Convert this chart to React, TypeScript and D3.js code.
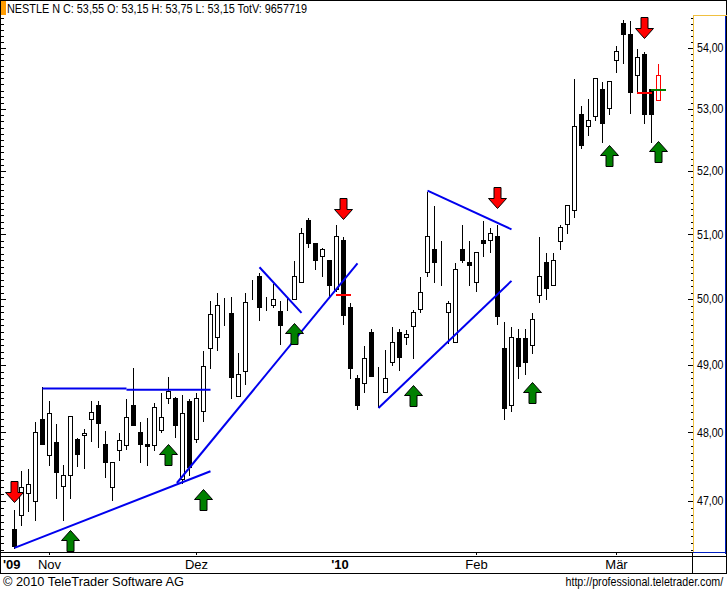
import React, { useEffect, useRef } from "react";
import * as d3 from "d3";

const opens = [
  46.6, 46.8, 47.12, 47.0, 48.2, 47.67, 47.86, 47.22, 47.38, 47.9,
  47.96, 48.2, 48.41, 47.83, 47.2, 47.74, 47.81, 48.41, 48.0, 47.83,
  47.81, 48.04, 48.51, 48.51, 47.32, 48.47, 47.9, 48.32, 49.26, 49.42,
  49.85, 49.79, 48.53, 48.91, 50.09, 50.36, 49.97, 49.91, 49.82, 49.98,
  50.0, 50.26, 51.22, 50.86, 50.66, 50.61, 50.16, 50.91, 49.88, 48.81,
  48.73, 49.5, 48.79, 48.59, 49.05, 49.5, 49.42, 49.59, 49.85, 50.41,
  50.77, 50.24, 49.8, 49.35, 50.77, 50.57, 50.27, 50.91, 50.91, 50.97,
  49.26, 48.41, 49.41, 49.41, 49.3, 50.06, 50.57, 50.22, 50.9, 51.17,
  51.38, 52.92, 52.73, 52.89, 53.32, 53.02, 53.8, 54.41, 54.24, 53.56,
  53.9, 53.32, 53.15,
];
const closes = [
  46.36, 47.2, 47.25, 48.01, 47.83, 48.29, 47.42, 47.38, 48.24, 47.68,
  47.99, 48.3, 48.13, 47.57, 47.57, 47.88, 48.23, 48.11, 47.83, 47.8,
  48.38, 48.23, 48.61, 48.11, 48.29, 47.49, 48.51, 48.99, 49.77, 49.91,
  49.85, 48.82, 48.87, 49.95, 50.09, 49.88, 49.97, 50.0, 49.61, 49.98,
  50.36, 51.02, 50.86, 50.61, 50.77, 50.21, 50.97, 49.76, 48.96, 48.41,
  49.11, 48.84, 48.79, 48.81, 49.35, 49.12, 49.47, 49.8, 50.11, 50.97,
  50.57, 50.24, 49.94, 50.46, 50.61, 50.52, 50.72, 50.86, 51.02, 49.74,
  48.36, 49.42, 48.99, 49.05, 49.7, 50.36, 50.17, 50.61, 51.11, 51.46,
  52.73, 52.42, 52.82, 53.51, 52.77, 53.46, 53.95, 54.24, 53.27, 53.85,
  52.92, 52.92, 53.55,
];
const highs = [
  46.89, 47.45, 47.48, 48.17, 48.69, 48.48, 48.14, 47.54, 48.26, 47.93,
  48.07, 48.48, 48.48, 48.04, 47.57, 48.0, 48.51, 48.97, 48.16, 48.22,
  48.45, 48.6, 48.84, 48.54, 48.57, 48.51, 48.59, 49.23, 49.98, 50.11,
  50.03, 50.05, 49.2, 50.11, 50.31, 50.41, 50.05, 50.25, 49.98, 50.05,
  50.61, 51.11, 51.27, 50.86, 50.81, 50.61, 51.16, 50.97, 49.95, 48.87,
  49.3, 49.56, 48.99, 49.24, 49.59, 49.56, 49.55, 49.85, 50.36, 51.68,
  51.46, 50.91, 49.98, 50.57, 51.16, 50.91, 50.72, 51.22, 51.11, 51.16,
  49.67, 49.59, 49.56, 49.56, 49.8, 50.97, 50.72, 50.72, 51.16, 51.46,
  53.51, 53.06, 53.18, 53.51, 53.46, 53.46, 54.05, 54.49, 54.46, 54.0,
  53.95, 53.32, 53.75,
];
const lows = [
  46.33, 46.65, 46.86, 46.73, 47.83, 47.52, 47.04, 46.73, 47.04, 47.51,
  47.48, 47.87, 47.78, 47.35, 47.01, 47.59, 47.75, 48.11, 47.57, 47.52,
  47.74, 48.01, 48.44, 47.93, 47.26, 47.38, 47.86, 48.17, 48.96, 49.23,
  49.61, 48.51, 48.53, 48.72, 50.0, 49.68, 49.83, 49.88, 49.32, 49.83,
  50.0, 50.26, 50.81, 50.46, 50.36, 50.04, 50.13, 49.62, 48.81, 48.35,
  48.6, 48.84, 48.38, 48.59, 49.0, 48.93, 49.32, 49.11, 49.8, 50.36,
  50.26, 50.22, 49.33, 49.35, 50.57, 50.21, 50.12, 50.66, 50.72, 49.62,
  48.19, 48.32, 48.81, 48.87, 49.18, 49.95, 50.0, 50.22, 50.77, 51.02,
  51.27, 52.37, 52.58, 52.82, 52.47, 52.92, 53.61, 53.76, 52.94, 53.27,
  52.77, 52.47, 53.15,
];

const monthLabels = ["'09", "Nov", "Dez", "'10", "Feb", "Mär"];
const monthIndex = [null, 5, 26, 46.5, 66, 86];
const priceTicks = [47, 48, 49, 50, 51, 52, 53, 54];

// [from index, from price, to index, to price]
const trendLines = [
  [0, 46.33, 28, 47.43],
  [4, 48.65, 16, 48.65],
  [16, 48.63, 28, 48.63],
  [23.2, 47.26, 49, 50.55],
  [35, 50.49, 41, 49.79],
  [52, 48.36, 71, 50.28],
  [59, 51.69, 71, 51.08],
];
// [index, tip price]
const buyArrows = [
  [8, 46.59],
  [22, 47.83],
  [27, 47.17],
  [40, 49.64],
  [57, 48.7],
  [74, 48.75],
  [85, 52.42],
  [92, 52.48],
];
const sellArrows = [
  [0, 46.99],
  [47, 51.25],
  [69, 51.41],
  [90, 54.16],
];
const redMarks = [
  [47, 50.08],
  [89.5, 53.28],
  [90.5, 53.27],
];
const greenMarks = [[92, 53.32]];

const headerText = "NESTLE N C: 53,55 O: 53,15 H: 53,75 L: 53,15 TotV: 9657719";
const font = "'Liberation Sans', Arial, sans-serif";

export default function App() {
  const svgRef = useRef<SVGSVGElement>(null);

  useEffect(() => {
    if (!svgRef.current) return;
    const svg = d3.select(svgRef.current);
    svg.selectAll("*").remove();

    const width = 727;
    const height = 591;
    const plotRight = 693;
    const plotBottom = 552.5;

    const x = d3.scaleLinear().domain([0, 92]).range([14.5, 658.5]);
    const y = d3.scaleLog().domain([47, 54]).range([501, 48]);
    const px = (v: number) => Math.floor(x(v)) + 0.5;
    const py = (v: number) => Math.round(y(v)) + 0.5;

    svg.append("rect").attr("width", width).attr("height", height).attr("fill", "white");

    // candles
    const candles = svg.append("g").attr("shape-rendering", "crispEdges");
    opens.forEach((o, i) => {
      const c = closes[i];
      const last = i === opens.length - 1;
      const col = last ? "#ff0000" : "black";
      candles
        .append("line")
        .attr("x1", px(i))
        .attr("x2", px(i))
        .attr("y1", py(highs[i]))
        .attr("y2", py(lows[i]))
        .attr("stroke", col);
      candles
        .append("rect")
        .attr("x", px(i) - 2)
        .attr("width", 4)
        .attr("y", py(Math.max(o, c)))
        .attr("height", py(Math.min(o, c)) - py(Math.max(o, c)))
        .attr("fill", c >= o ? "white" : "black")
        .attr("stroke", col);
    });

    // small horizontal marks on the signal bars
    const marks = svg.append("g").attr("shape-rendering", "crispEdges");
    const drawMarks = (list: number[][], color: string, half: number) => {
      list.forEach(([i, p]) => {
        marks
          .append("line")
          .attr("x1", x(i) - half)
          .attr("x2", x(i) + half)
          .attr("y1", py(p))
          .attr("y2", py(p))
          .attr("stroke", color)
          .attr("stroke-width", 2);
      });
    };
    drawMarks(redMarks.slice(0, 1), "#ff0000", 7.5);
    drawMarks(redMarks.slice(1), "#ff0000", 3.7);
    drawMarks(greenMarks, "#008000", 7.5);

    // hand drawn trend lines
    svg
      .append("g")
      .selectAll("line")
      .data(trendLines)
      .enter()
      .append("line")
      .attr("x1", (d) => x(d[0]))
      .attr("y1", (d) => y(d[1]))
      .attr("x2", (d) => x(d[2]))
      .attr("y2", (d) => y(d[3]))
      .attr("stroke", "#0000ee")
      .attr("stroke-width", 2);

    // arrows, the path is relative to the tip
    const arrowLine = d3.line();
    const upArrow = arrowLine([
      [0, 0],
      [9, 10],
      [3.5, 10],
      [3.5, 21],
      [-3.5, 21],
      [-3.5, 10],
      [-9, 10],
    ]) + "Z";
    const downArrow = arrowLine([
      [0, 0],
      [9, -10],
      [3.5, -10],
      [3.5, -21],
      [-3.5, -21],
      [-3.5, -10],
      [-9, -10],
    ]) + "Z";
    const drawArrows = (list: number[][], d: string, color: string) => {
      svg
        .append("g")
        .selectAll("path")
        .data(list)
        .enter()
        .append("path")
        .attr("d", d)
        .attr("transform", (a) => `translate(${px(a[0])},${py(a[1])})`)
        .attr("fill", color)
        .attr("stroke", "black")
        .attr("stroke-width", 1);
    };
    drawArrows(buyArrows, upArrow, "#008000");
    drawArrows(sellArrows, downArrow, "#ff0000");

    // right price axis
    const minorTicks = d3.range(463, 546).map((v) => v / 10);
    const minorAxis = d3
      .axisRight(y)
      .tickValues(minorTicks)
      .tickSizeInner(-2.5)
      .tickSizeOuter(0)
      .tickFormat(() => "");
    const majorAxis = d3
      .axisRight(y)
      .tickValues(priceTicks)
      .tickSizeInner(-5)
      .tickSizeOuter(0)
      .tickPadding(4)
      .tickFormat((d) => d3.format(".2f")(d as number).replace(".", ","));
    const rightAxis = svg.append("g").attr("shape-rendering", "crispEdges");
    rightAxis.append("g").attr("transform", `translate(${plotRight},0)`).call(minorAxis);
    rightAxis.append("g").attr("transform", `translate(${plotRight},0)`).call(majorAxis);
    rightAxis.selectAll(".domain").remove();
    rightAxis
      .selectAll("text")
      .attr("font-family", font)
      .attr("font-size", 12)
      .attr("textLength", 26.5)
      .attr("lengthAdjust", "spacingAndGlyphs")
      .attr("fill", "black");

    // left ticks mirror the price axis
    const leftAxis = svg.append("g").attr("shape-rendering", "crispEdges");
    leftAxis
      .append("g")
      .attr("transform", "translate(0.5,0)")
      .call(d3.axisRight(y).tickValues(minorTicks).tickSizeInner(3).tickSizeOuter(0).tickFormat(() => ""));
    leftAxis
      .append("g")
      .attr("transform", "translate(0.5,0)")
      .call(d3.axisRight(y).tickValues(priceTicks).tickSizeInner(5.5).tickSizeOuter(0).tickFormat(() => ""));
    leftAxis.selectAll(".domain").remove();

    // frame
    const frame = svg.append("g").attr("shape-rendering", "crispEdges").attr("fill", "none");
    const hLine = (x1: number, x2: number, yy: number, color: string) =>
      frame.append("line").attr("x1", x1).attr("x2", x2).attr("y1", yy).attr("y2", yy).attr("stroke", color);
    const vLine = (xx: number, y1: number, y2: number, color: string) =>
      frame.append("line").attr("x1", xx).attr("x2", xx).attr("y1", y1).attr("y2", y2).attr("stroke", color);
    hLine(0, width, 0.5, "black");
    vLine(0.5, 0, 573, "black");
    vLine(726.5, 0, 573, "black");
    hLine(0, plotRight, plotBottom, "black");
    hLine(0, width, 556.5, "black");
    hLine(0, width, 573.5, "black");
    vLine(692.5, plotBottom, 573, "black");
    hLine(plotRight, 727, 15.5, "#f0c040");
    vLine(693.5, 15.5, plotBottom, "#f0c040");
    vLine(725.5, 15.5, plotBottom + 1, "#0020c0");
    hLine(plotRight, 726, plotBottom, "#0020c0");

    // month labels and their ticks
    const bottom = svg.append("g").attr("font-family", font).attr("font-size", 13);
    monthLabels.forEach((label, i) => {
      const idx = monthIndex[i];
      const bold = label.startsWith("'");
      const t = bottom
        .append("text")
        .attr("y", 569)
        .attr("fill", "black")
        .attr("font-weight", bold ? "bold" : "normal")
        .text(label);
      if (idx === null) {
        t.attr("x", 3);
      } else {
        t.attr("x", x(idx)).attr("text-anchor", "middle");
        if (!bold) {
          frame
            .append("line")
            .attr("x1", px(idx))
            .attr("x2", px(idx))
            .attr("y1", plotBottom)
            .attr("y2", plotBottom + 2)
            .attr("stroke", "black");
        }
      }
    });

    // header and footer
    svg
      .append("rect")
      .attr("x", 1)
      .attr("y", 1)
      .attr("width", 5)
      .attr("height", 14)
      .attr("fill", "#ff9c00")
      .attr("shape-rendering", "crispEdges");
    svg
      .append("text")
      .attr("x", 7)
      .attr("y", 12.5)
      .attr("font-family", font)
      .attr("font-size", 12.5)
      .attr("textLength", 300)
      .attr("lengthAdjust", "spacingAndGlyphs")
      .text(headerText);
    svg
      .append("text")
      .attr("x", 3)
      .attr("y", 586)
      .attr("font-family", font)
      .attr("font-size", 13)
      .attr("textLength", 181)
      .attr("lengthAdjust", "spacingAndGlyphs")
      .text("© 2010 TeleTrader Software AG");
    svg
      .append("text")
      .attr("transform", "translate(565.5,586) scale(0.89,1)")
      .attr("font-family", font)
      .attr("font-size", 12)
      .text("http://professional.teletrader.com/");
  }, []);

  return (
    <svg
      ref={svgRef}
      width={727}
      height={591}
      style={{ position: "absolute", top: 0, left: 0, display: "block" }}
    />
  );
}
